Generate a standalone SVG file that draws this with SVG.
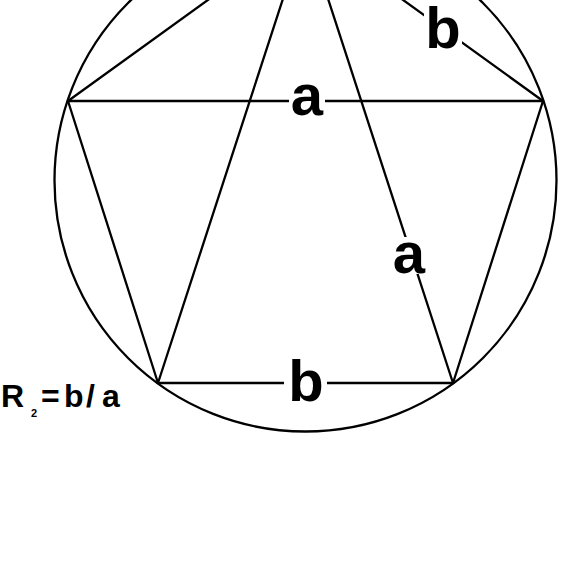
<svg xmlns="http://www.w3.org/2000/svg" width="563" height="571" viewBox="0 0 563 571">
<style>
.ln{stroke:#000;stroke-width:2.3;fill:none;stroke-linecap:round}
.lbl{font-family:"Liberation Sans",Arial,sans-serif;font-weight:bold;font-size:58px;fill:#000;text-anchor:middle}
.bg{fill:#fff}
.eq{font-family:"Liberation Sans",Arial,sans-serif;font-weight:bold;fill:#000;font-size:32px}
.sub{font-family:"Liberation Sans",Arial,sans-serif;font-weight:bold;fill:#000;font-size:11px}
</style>
<rect width="563" height="571" fill="#fff"/>
<g id="connectors">
<circle class="ln" cx="305.5" cy="180.5" r="251"/>
<line class="ln" x1="305.5" y1="-70.5" x2="68" y2="101"/>
<line class="ln" x1="305.5" y1="-70.5" x2="543" y2="101"/>
<line class="ln" x1="68" y1="101" x2="158" y2="383"/>
<line class="ln" x1="543" y1="101" x2="453" y2="383"/>
<line class="ln" x1="158" y1="383" x2="453" y2="383"/>
<line class="ln" x1="68" y1="101" x2="543" y2="101"/>
<line class="ln" x1="305.5" y1="-70.5" x2="158" y2="383"/>
<line class="ln" x1="305.5" y1="-70.5" x2="453" y2="383"/>
</g>
<g id="label-a-top">
<rect class="bg" x="289" y="82" width="36" height="36"/>
<text class="lbl" x="307" y="115">a</text>
</g>
<g id="label-a-right">
<rect class="bg" x="395" y="237" width="30" height="37"/>
<text class="lbl" x="409" y="273">a</text>
</g>
<g id="label-b-bottom">
<rect class="bg" x="284" y="355" width="43" height="48"/>
<text class="lbl" x="306" y="401">b</text>
</g>
<g id="label-b-top">
<rect class="bg" x="424" y="2" width="38" height="48"/>
<text class="lbl" x="443" y="48">b</text>
</g>
<g id="formula">
<text class="eq" x="1" y="407">R</text>
<text class="sub" x="31" y="417">2</text>
<text class="eq" x="41" y="407">=</text>
<text class="eq" x="64" y="407">b</text>
<text class="eq" x="86" y="407">/</text>
<text class="eq" x="102" y="407">a</text>
</g>
</svg>
